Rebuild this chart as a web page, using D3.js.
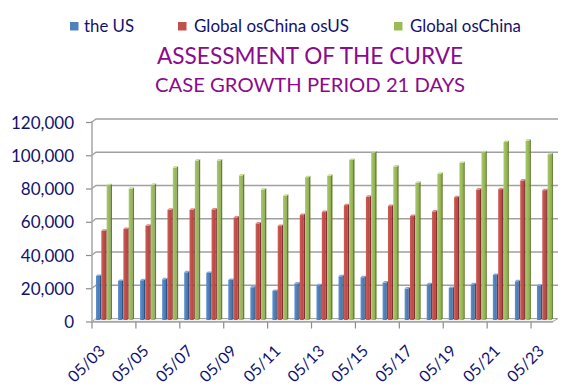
<!DOCTYPE html>
<html>
<head>
<meta charset="utf-8">
<script src="https://cdn.jsdelivr.net/npm/d3@7"></script>
<style>
  body { margin: 0; background: #fff; }
  svg { display: block; font-family: Lato, "Open Sans", sans-serif; }
</style>
</head>
<body>
<svg id="chart" width="580" height="389"></svg>
<script>
// values
let days = ["05/03", "05/04", "05/05", "05/06", "05/07", "05/08", "05/09", "05/10", "05/11", "05/12", "05/13",
  "05/14", "05/15", "05/16", "05/17", "05/18", "05/19", "05/20", "05/21", "05/22", "05/23"];
let seriesNames = ["the US", "Global osChina osUS", "Global osChina"];
let usCases = [27400, 24400, 24800, 25400, 29600, 29200, 25000, 20600, 18400, 22900, 21800,
  27200, 26600, 23400, 19800, 22400, 20200, 22400, 28000, 24200, 21600];
let exChinaExUS = [54600, 55600, 57600, 67200, 67200, 67400, 62600, 59000, 57400, 64000, 65800,
  70000, 75000, 69400, 63400, 66200, 74800, 79400, 79600, 84800, 79000];
let exChina = [82000, 79800, 82200, 92600, 96800, 96800, 87800, 79400, 75600, 86800, 87600,
  97200, 101600, 93200, 83400, 88800, 95400, 101800, 108000, 108800, 100600];
let yTicks = [0, 20000, 40000, 60000, 80000, 100000, 120000];

let seriesValues = [usCases, exChinaExUS, exChina];
// base (legend), front gradient (light, dark), side, top
let palette = [
  {base: "#4f81bd", light: "#5d90d0", dark: "#4373ab", side: "#2f5280", top: "#86aade"},
  {base: "#c0504d", light: "#cf5c59", dark: "#b3443f", side: "#823230", top: "#de8b88"},
  {base: "#9bbb59", light: "#a9ca6b", dark: "#8fae4f", side: "#677f34", top: "#c6de94"}
];

let svg = d3.select("#chart");
let navy = "#12126e";
let depth = {dx: 4, dy: 3};

// front edge of the floor, and the bars a bit deeper
let xFront = d3.scaleBand().domain(days).range([92, 553]).padding(0);
let xBars = d3.scaleBand().domain(days).range([94, 557]).padding(0);
let xSeries = d3.scaleBand().domain(seriesNames).range([2, 18]).padding(0);

let yFront = d3.scaleLinear().domain([0, 120000]).range([321.5, 122]);
let yBack = d3.scaleLinear().domain([0, 120000]).range([318.5, 119]);
let yBar = d3.scaleLinear().domain([0, 120000]).range([320, 120.5]);

let defs = svg.append("defs");
palette.forEach((p, i) => {
  let g = defs.append("linearGradient").attr("id", "grad" + i)
    .attr("x1", 0).attr("x2", 1).attr("y1", 0).attr("y2", 0);
  g.append("stop").attr("offset", 0).attr("stop-color", p.light);
  g.append("stop").attr("offset", 1).attr("stop-color", p.dark);
});

// legend
let legendX = [70, 178, 394];
let legendTextX = [84, 194, 410];
let legendTextW = [50, 155, 111];
let legend = svg.append("g").attr("id", "legend");
seriesNames.forEach((name, i) => {
  legend.append("rect")
    .attr("x", legendX[i]).attr("y", 22).attr("width", 8.5).attr("height", 8.5)
    .attr("fill", palette[i].base);
  legend.append("text")
    .attr("x", legendTextX[i]).attr("y", 31.5)
    .attr("font-size", 16.5).attr("fill", navy)
    .attr("textLength", legendTextW[i]).attr("lengthAdjust", "spacingAndGlyphs")
    .text(name);
});

// titles
svg.append("text").attr("x", 157).attr("y", 64.3)
  .attr("font-size", 22.5).attr("fill", "#8c0a8c")
  .attr("textLength", 306).attr("lengthAdjust", "spacingAndGlyphs")
  .text("ASSESSMENT OF THE CURVE");
svg.append("text").attr("x", 155).attr("y", 91.7)
  .attr("font-size", 18.8).attr("fill", "#8c0a8c")
  .attr("textLength", 310).attr("lengthAdjust", "spacingAndGlyphs")
  .text("CASE GROWTH PERIOD 21 DAYS");

// floor
let x0 = xFront.range()[0], x1 = xFront.range()[1];
svg.append("path")
  .attr("d", d3.line()([[x0, yFront(0)], [x0 + depth.dx, yBack(0)], [x1 + depth.dx + 1, yBack(0)], [x1, yFront(0)]]) + "Z")
  .attr("fill", "#f2f2f2").attr("stroke", "#a6a6a6").attr("stroke-width", 1);

// gridlines on the back wall with the little slant to the front
let grid = svg.append("g").attr("id", "grid");
yTicks.filter(t => t > 0).forEach(t => {
  grid.append("path")
    .attr("d", d3.line()([[x0, yFront(t)], [x0 + depth.dx, yBack(t)], [x1 + depth.dx + 1, yBack(t)]]))
    .attr("fill", "none").attr("stroke", "#a0a0a0").attr("stroke-width", 1.3);
});

// y axis
let yAxis = d3.axisLeft(yFront).tickValues(yTicks).tickSize(6).tickFormat(d3.format(","));
let yGroup = svg.append("g").attr("id", "y-axis").attr("transform", `translate(${x0},0)`).call(yAxis);
yGroup.select(".domain").remove();
yGroup.selectAll(".tick line").attr("stroke", "#8c8c8c").attr("stroke-width", 1.2);
yGroup.selectAll(".tick text")
  .attr("x", -18).attr("dy", "0.36em")
  .attr("font-size", 17).attr("font-family", "Lato, sans-serif").attr("fill", navy);
svg.append("line")
  .attr("x1", x0).attr("x2", x0).attr("y1", yFront(120000) - 1).attr("y2", yFront(0) + 1)
  .attr("stroke", "#a6a6a6").attr("stroke-width", 1.5);

// bars
let plot = svg.append("g").attr("id", "bars");
let side = 1.5;
days.forEach((day, di) => {
  seriesValues.forEach((vals, si) => {
    let v = vals[di];
    let x = xBars(day) + xSeries(seriesNames[si]);
    let w = xSeries.bandwidth();
    let yTop = yBar(v) + side;
    let yBottom = yBar(0);
    let p = palette[si];
    plot.append("rect")
      .attr("x", x).attr("y", yTop).attr("width", w - side).attr("height", yBottom - yTop)
      .attr("fill", `url(#grad${si})`);
    plot.append("path")
      .attr("d", d3.line()([[x + w - side, yTop], [x + w, yTop - side], [x + w, yBottom - side], [x + w - side, yBottom]]) + "Z")
      .attr("fill", p.side);
    plot.append("path")
      .attr("d", d3.line()([[x, yTop], [x + side, yTop - side], [x + w, yTop - side], [x + w - side, yTop]]) + "Z")
      .attr("fill", p.top);
  });
});

// front floor edge
svg.append("line")
  .attr("x1", x0).attr("x2", x1).attr("y1", yFront(0) + 0.5).attr("y2", yFront(0) + 0.5)
  .attr("stroke", "#a6a6a6").attr("stroke-width", 1.3);

// x axis: ticks every two days, labels on odd days
let xAxisG = svg.append("g").attr("id", "x-axis");
days.forEach((day, i) => {
  if (i % 2 != 0) return;
  xAxisG.append("line")
    .attr("x1", xFront(day)).attr("x2", xFront(day))
    .attr("y1", yFront(0) + 0.5).attr("y2", yFront(0) + 7)
    .attr("stroke", "#8c8c8c").attr("stroke-width", 1.2);
  let cx = xFront(day) + xFront.bandwidth() / 2;
  xAxisG.append("text")
    .attr("transform", `translate(${cx + 3},352) rotate(-45)`)
    .attr("text-anchor", "end")
    .attr("font-size", 16).attr("fill", navy)
    .text(day);
});
</script>
</body>
</html>
